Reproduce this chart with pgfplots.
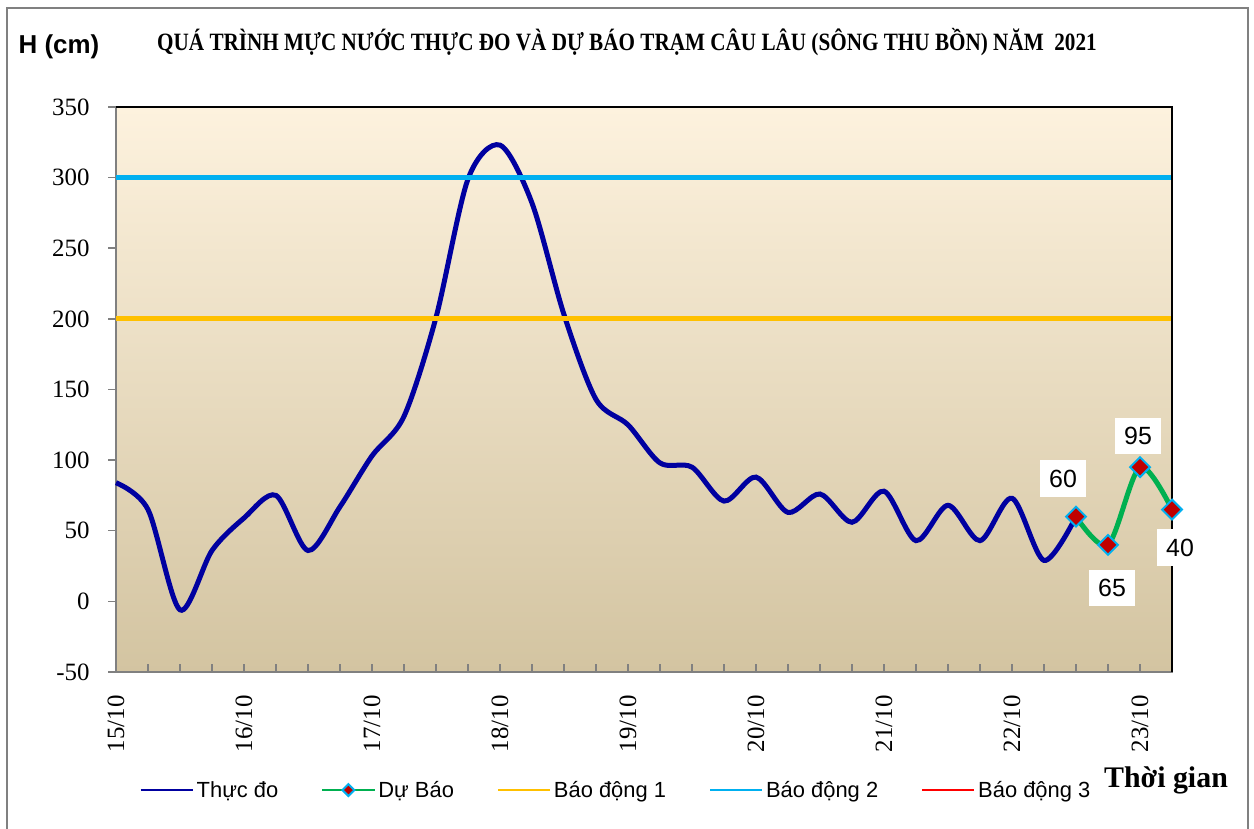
\documentclass[border=0pt]{standalone}
\usepackage{pgfplots}
\pgfplotsset{compat=1.18}
\usepackage{pgfplotstable}
\usepackage{fontspec}
\setmainfont{Liberation Serif}
\newfontfamily\arialfont{Liberation Sans}
\newfontfamily\titlefont[FakeStretch=0.85]{Liberation Serif}

\definecolor{thucdo}{RGB}{0,0,160}
\definecolor{dubao}{RGB}{0,176,80}
\definecolor{bd1}{RGB}{255,192,0}
\definecolor{bd2}{RGB}{0,176,240}
\definecolor{bd3}{RGB}{255,0,0}
\definecolor{mk}{RGB}{192,0,0}
\definecolor{bgtop}{HTML}{FDF2DE}
\definecolor{bgbot}{HTML}{D3C4A1}
\definecolor{axgray}{RGB}{128,128,128}

% muc nuoc thuc do, 6 gio mot diem, tu 15/10
\pgfplotstableread{
i h
0 84
1 65
2 -6
3 36
4 59
5 75
6 36
7 67
8 103
9 131
10 201
11 299
12 323
13 282
14 203
15 143
16 125
17 98
18 95
19 71
20 88
21 63
22 76
23 56
24 78
25 43
26 68
27 43
28 73
29 29
30 60
}\obs

% du bao
\pgfplotstableread{
i h
30 60
31 40
32 95
33 65
}\fc

\begin{document}
\begin{tikzpicture}[x=1bp,y=1bp]
\useasboundingbox (0,0) rectangle (1254,829);
\draw[axgray, line width=1.5bp] (7,-10) -- (7,821) -- (1248,821) -- (1248,-10);

\begin{axis}[
    at={(116bp,157bp)}, anchor=south west,
    scale only axis,
    width=1056bp, height=565bp,
    xmin=0, xmax=33,
    ymin=-50, ymax=350,
    clip=false,
    axis background/.style={top color=bgtop, bottom color=bgbot},
    axis line style={axgray, line width=2bp},
    xtick={0,4,...,32},
    xticklabels={15/10,16/10,17/10,18/10,19/10,20/10,21/10,22/10,23/10},
    minor xtick={0,...,33},
    ytick={-50,0,...,350},
    xtick pos=bottom, ytick pos=left,
    tick align=inside,
    major tick length=8bp, minor tick length=8bp,
    tick style={axgray, line width=1.5bp},
    every major y tick/.append style={xshift=-8bp},
    /pgf/number format/assume math mode=true,
    ticklabel style={font=\rmfamily\mdseries\fontsize{25}{30}\selectfont},
    xticklabel style={rotate=90, anchor=east},
    xticklabel shift=20bp,
    yticklabel shift=23bp,
    legend columns=5,
    legend style={at={(0.474,-0.209)}, anchor=center, draw=none, fill=none,
        font=\arialfont\fontsize{22}{26}\selectfont,
        nodes={inner xsep=3bp, inner ysep=2bp},
        /tikz/every even column/.append style={column sep=40bp}},
    legend image code/.code={\draw[#1, line width=2bp, mark repeat=2, mark phase=2,
        every mark/.append style={scale=0.6}]
        plot coordinates {(0bp,0bp) (26bp,0bp) (52bp,0bp)};},
]
\addplot[thucdo, line width=5bp, smooth, tension=0.5] table[x=i, y=h] {\obs};
\addplot[dubao, line width=5bp, smooth, tension=0.5, mark=square*, mark size=7bp,
    mark options={rotate=45, fill=mk, draw=bd2, line width=2bp, solid}] table[x=i, y=h] {\fc};
\addplot[bd1, line width=5bp] coordinates {(0,200) (33,200)};
\addplot[bd2, line width=5bp] coordinates {(0,300) (33,300)};
\addlegendimage{bd3, line width=5bp}
\legend{Thực đo, Dự Báo, Báo động 1, Báo động 2, Báo động 3}

\draw[black, line width=2bp] (rel axis cs:0,1) -- (rel axis cs:1,1) -- (rel axis cs:1,0);

\tikzset{lbl/.style={fill=white, font=\arialfont\fontsize{25}{30}\selectfont, inner xsep=9bp, inner ysep=9.5bp}}
\node[lbl, xshift=-13bp, yshift=38bp] at (axis cs:30,60) {60};
\node[lbl, xshift=4bp, yshift=-43bp] at (axis cs:31,40) {65};
\node[lbl, xshift=-2bp, yshift=31bp] at (axis cs:32,95) {95};
\node[lbl, xshift=8bp, yshift=-38bp] at (axis cs:33,65) {40};
\end{axis}

\node[font=\titlefont\bfseries\fontsize{25}{29}\selectfont] at (627,787)
    {QUÁ TRÌNH MỰC NƯỚC THỰC ĐO VÀ DỰ BÁO TRẠM CÂU LÂU (SÔNG THU BỒN) NĂM~~2021};
\node[font=\arialfont\bfseries\fontsize{26}{30}\selectfont] at (59,782) {H (cm)};
\node[font=\bfseries\fontsize{30}{34}\selectfont, anchor=base] at (1166,41) {Thời gian};
\end{tikzpicture}
\end{document}
